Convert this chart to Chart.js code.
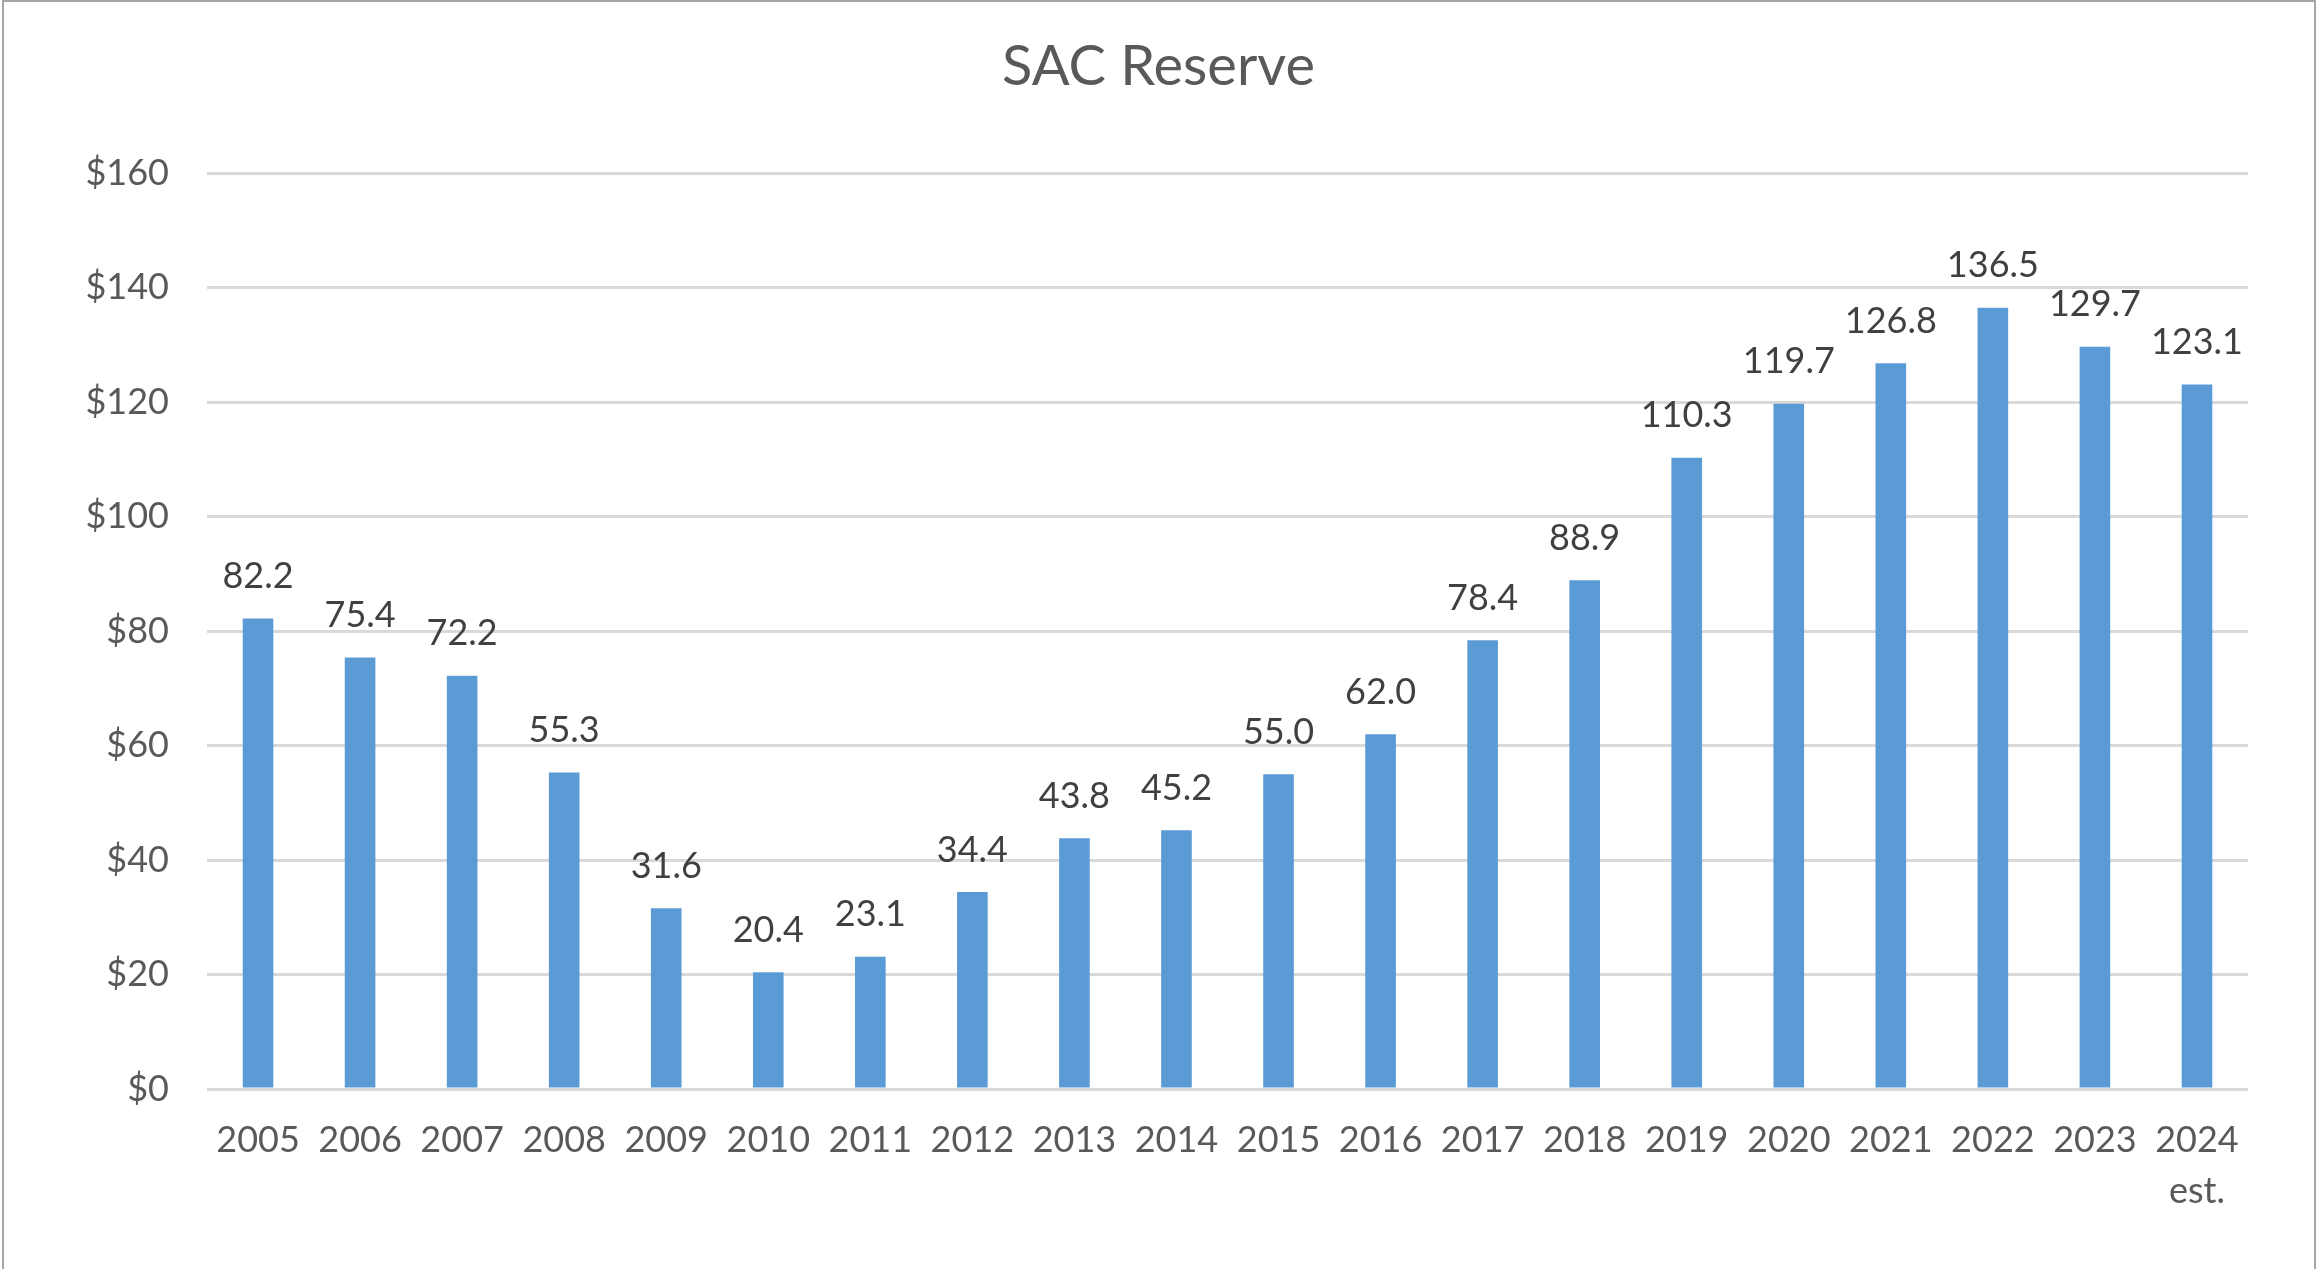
<!DOCTYPE html>
<html>
<head>
<meta charset="utf-8">
<title>SAC Reserve</title>
<script src="https://cdn.jsdelivr.net/npm/chart.js@4.4.1/dist/chart.umd.min.js"></script>
<style>
  html, body { margin: 0; padding: 0; background: #fff; }
  canvas { display: block; }
</style>
</head>
<body>
<canvas id="reserveChart" width="2317" height="1269"></canvas>
<script>
// años fiscales (el último es estimado)
const years = ["2005", "2006", "2007", "2008", "2009", "2010", "2011", "2012", "2013", "2014",
  "2015", "2016", "2017", "2018", "2019", "2020", "2021", "2022", "2023", ["2024", "est."]];
// reserva SAC en millones
const reserve = [82.2, 75.4, 72.2, 55.3, 31.6, 20.4, 23.1, 34.4, 43.8, 45.2,
  55.0, 62.0, 78.4, 88.9, 110.3, 119.7, 126.8, 136.5, 129.7, 123.1];
const yTicks = [0, 20, 40, 60, 80, 100, 120, 140, 160];

const FONT = "Lato, 'Open Sans', 'Liberation Sans', sans-serif";

// etiquetas de valor encima de cada barra
const valueLabels = {
  id: "valueLabels",
  afterDatasetsDraw(chart) {
    const ctx = chart.ctx;
    const meta = chart.getDatasetMeta(0);
    ctx.save();
    ctx.font = "36px " + FONT;
    ctx.fillStyle = "#404040";
    ctx.textAlign = "center";
    ctx.textBaseline = "middle";
    meta.data.forEach((bar, i) => {
      ctx.fillText(reserve[i].toFixed(1), bar.x, bar.y - 42);
    });
    ctx.restore();
  }
};

// marco gris alrededor del gráfico
const frame = {
  id: "frame",
  beforeDraw(chart) {
    const ctx = chart.ctx;
    ctx.save();
    ctx.fillStyle = "#fff";
    ctx.fillRect(0, 0, chart.width, chart.height);
    ctx.strokeStyle = "#A6A6A6";
    ctx.lineWidth = 2;
    ctx.beginPath();
    ctx.moveTo(3, chart.height);
    ctx.lineTo(3, 1);
    ctx.lineTo(2315, 1);
    ctx.lineTo(2315, chart.height);
    ctx.stroke();
    ctx.restore();
  }
};

const ctx = document.getElementById("reserveChart").getContext("2d");
new Chart(ctx, {
  type: "bar",
  data: {
    labels: years,
    datasets: [{
      label: "SAC Reserve",
      data: reserve,
      backgroundColor: "#5B9BD5",
      categoryPercentage: 1,
      barPercentage: 0.3
    }]
  },
  options: {
    responsive: false,
    animation: false,
    devicePixelRatio: 1,
    layout: { padding: 0 },
    plugins: {
      legend: { display: false },
      tooltip: { enabled: false },
      title: {
        display: true,
        text: "SAC Reserve",
        color: "#595959",
        font: { family: FONT, size: 56, weight: "normal", lineHeight: 1.2 },
        padding: { top: 33, bottom: 73 }
      }
    },
    scales: {
      x: {
        grid: { display: false },
        border: { display: false },
        ticks: {
          color: "#595959",
          font: { family: FONT, size: 36, lineHeight: 1.42 },
          padding: 18,
          maxRotation: 0,
          autoSkip: false
        },
        afterFit(scale) { scale.height = 180; }
      },
      y: {
        min: 0,
        max: 160,
        border: { display: false },
        grid: { color: "#D9D9D9", lineWidth: 3, drawTicks: false },
        afterBuildTicks(scale) {
          scale.ticks = yTicks.map(v => ({ value: v }));
        },
        ticks: {
          color: "#595959",
          font: { family: FONT, size: 36 },
          padding: 38,
          callback: (v) => "$" + v
        },
        afterFit(scale) { scale.width = 207; }
      },
      // eje vacío a la derecha, solo deja el margen
      yRight: {
        position: "right",
        display: true,
        grid: { display: false },
        border: { display: false },
        ticks: { display: false },
        afterFit(scale) { scale.width = 69; }
      }
    }
  },
  plugins: [frame, valueLabels]
});
</script>
</body>
</html>
